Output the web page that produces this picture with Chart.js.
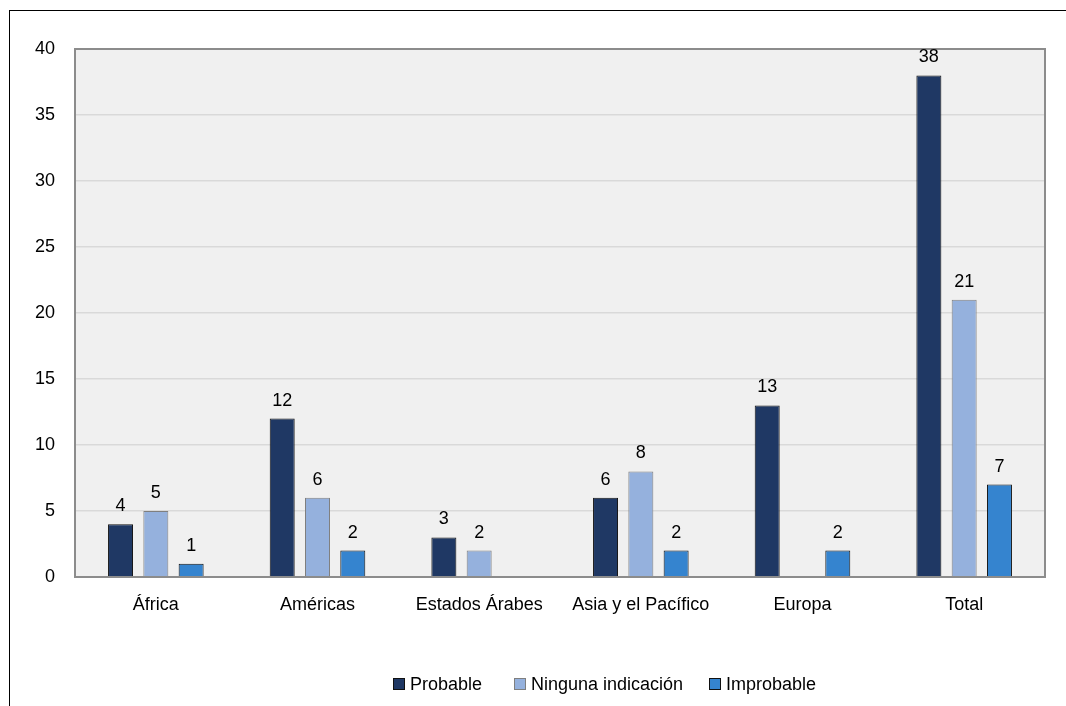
<!DOCTYPE html>
<html>
<head>
<meta charset="utf-8">
<script src="https://cdn.jsdelivr.net/npm/chart.js@4/dist/chart.umd.min.js"></script>
<style>
  html, body { margin: 0; padding: 0; background: #fff; }
  #wrap { position: relative; width: 1066px; height: 706px; overflow: hidden; }
  #frame { position: absolute; left: 9px; top: 10px; width: 1200px; height: 800px;
           border-left: 1.5px solid #000; border-top: 1.5px solid #000; }
  canvas { position: absolute; left: 0; top: 0; }
</style>
</head>
<body>
<div id="wrap">
  <div id="frame"></div>
  <canvas id="c" width="1066" height="706"></canvas>
</div>
<script>
const categories = ["África", "Américas", "Estados Árabes", "Asia y el Pacífico", "Europa", "Total"];
const seriesNames = ["Probable", "Ninguna indicación", "Improbable"];
const probable = [4, 12, 3, 6, 13, 38];
const ningunaIndicacion = [5, 6, 2, 8, null, 21];
const improbable = [1, 2, null, 2, 2, 7];
const yTicks = [0, 5, 10, 15, 20, 25, 30, 35, 40];

const FONT = '"Liberation Sans Narrow", "Arial Narrow", "Liberation Sans", Arial, sans-serif';
const colors = ["#1f3864", "#95b1dd", "#3584cf"];
const borders = ["#111", "#7f7f7f", "#111"];

const plotBg = {
  id: 'plotBg',
  beforeDraw(chart) {
    const {ctx, chartArea: a} = chart;
    ctx.save();
    ctx.fillStyle = '#f0f0f0';
    ctx.fillRect(a.left, a.top, a.right - a.left, a.bottom - a.top);
    ctx.restore();
  },
  afterDatasetsDraw(chart) {
    const {ctx, chartArea: a} = chart;
    ctx.save();
    ctx.strokeStyle = '#8c8c8c';
    ctx.lineWidth = 2;
    ctx.strokeRect(a.left, a.top, a.right - a.left, a.bottom - a.top);
    // value labels
    ctx.fillStyle = '#000';
    ctx.font = '18px ' + FONT;
    ctx.textAlign = 'center';
    ctx.textBaseline = 'alphabetic';
    chart.data.datasets.forEach((ds, i) => {
      const meta = chart.getDatasetMeta(i);
      meta.data.forEach((bar, j) => {
        const v = ds.data[j];
        if (v === null || v === undefined) return;
        ctx.fillText(String(v), bar.x, bar.y - 13);
      });
    });
    // legend
    const xs = [393, 514, 709];
    const y = 684;
    chart.data.datasets.forEach((ds, i) => {
      ctx.fillStyle = ds.backgroundColor;
      ctx.fillRect(xs[i], y - 6, 12, 12);
      ctx.strokeStyle = ds.borderColor;
      ctx.lineWidth = 1;
      ctx.strokeRect(xs[i] + 0.5, y - 5.5, 11, 11);
      ctx.fillStyle = '#000';
      ctx.textAlign = 'left';
      ctx.textBaseline = 'middle';
      ctx.fillText(ds.label, xs[i] + 17, y + 1);
    });
    ctx.restore();
  }
};

new Chart(document.getElementById('c'), {
  type: 'bar',
  data: {
    labels: categories,
    datasets: [
      { label: seriesNames[0], data: probable, backgroundColor: colors[0], borderColor: borders[0], borderWidth: 1 },
      { label: seriesNames[1], data: ningunaIndicacion, backgroundColor: colors[1], borderColor: borders[1], borderWidth: 1 },
      { label: seriesNames[2], data: improbable, backgroundColor: colors[2], borderColor: borders[2], borderWidth: 1 }
    ]
  },
  options: {
    responsive: false,
    animation: false,
    layout: { padding: { top: 49, right: 21, bottom: 0, left: 0 } },
    datasets: { bar: { categoryPercentage: 0.655, barPercentage: 0.708 } },
    plugins: { legend: { display: false }, tooltip: { enabled: false } },
    scales: {
      x: {
        grid: { display: false, drawTicks: false },
        border: { display: false },
        ticks: { color: '#000', font: { family: FONT, size: 18 }, padding: 17, maxRotation: 0, autoSkip: false },
        afterFit(s) { s.height = 129; }
      },
      y: {
        min: 0, max: 40,
        afterBuildTicks(s) { s.ticks = yTicks.map(v => ({ value: v })); },
        grid: { color: '#d9d9d9', lineWidth: 1.5, drawTicks: false },
        border: { display: false },
        ticks: { color: '#000', font: { family: FONT, size: 18 }, padding: 20 },
        afterFit(s) { s.width = 75; }
      }
    }
  },
  plugins: [plotBg]
});
</script>
</body>
</html>
